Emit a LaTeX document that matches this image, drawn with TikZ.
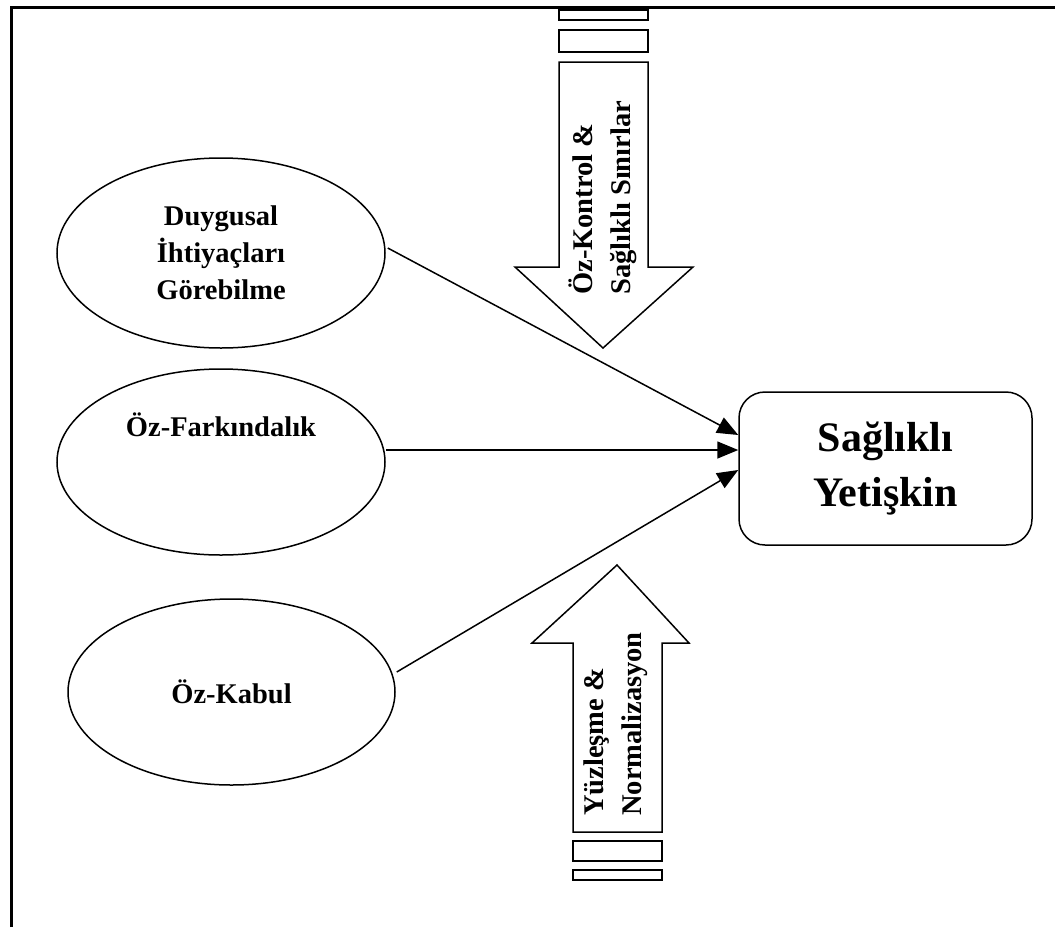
\documentclass[tikz,border=0pt]{standalone}
\usepackage{fontspec}
\setmainfont{Liberation Serif}
\usetikzlibrary{shapes.geometric,arrows.meta}
\begin{document}
\begin{tikzpicture}[x=1pt,y=-1pt,
  lbl/.style={font=\fontsize{28.5}{37}\selectfont\bfseries, align=center, inner sep=0pt},
  oval/.style={draw, ellipse, line width=1.5pt, inner sep=0pt, lbl},
  conn/.style={line width=1.5pt, -{Triangle[length=21pt,width=17pt]}},
  blk/.style={draw, line width=1.5pt, fill=white, line join=miter},
  bar/.style={draw, line width=2pt},
  vtext/.style={font=\fontsize{28.5}{38}\selectfont\bfseries, align=left, inner sep=0pt, rotate=90, anchor=west},
  goal/.style={draw, rounded corners=26pt, line width=1.5pt, minimum width=293pt, minimum height=153pt,
               font=\fontsize{42}{55}\selectfont\bfseries, align=center, inner sep=0pt}]
\useasboundingbox (0,0) rectangle (1055,927);
% frame
\draw[line width=3pt] (11,927) -- (11,7) -- (1055,7);

% top block arrow
\draw[bar] (559,10) rectangle (648,20);
\draw[bar] (559,30) rectangle (648,52);
\draw[blk] (559,62) -- (648,62) -- (648,267) -- (693,267) -- (603,348) -- (515,267) -- (559,267) -- cycle;
\node[vtext] (ta) at (603,295) {Öz-Kontrol \&\\Sağlıklı Sınırlar};

% bottom block arrow
\draw[blk] (573,832) -- (573,643) -- (532,643) -- (617,565) -- (689,643) -- (662,643) -- (662,832) -- cycle;
\draw[bar] (573,841) rectangle (662,861);
\draw[bar] (573,870) rectangle (662,880);
\node[vtext] (ba) at (616,816) {Yüzleşme \&\\Normalizasyon};

% ellipses
\node[oval, minimum width=328pt, minimum height=190pt] (e1) at (221,253) {Duygusal\\İhtiyaçları\\Görebilme};
\node[oval, minimum width=328pt, minimum height=186pt] (e2) at (221,462) {Öz-Farkındalık\\\mbox{}\\\mbox{}};
\node[oval, minimum width=327pt, minimum height=186pt] (e3) at (231.5,692) {Öz-Kabul};

% goal box
\node[goal] (box) at (885.5,468.5) {Sağlıklı\\Yetişkin};

\coordinate (t1) at (box.west |- 0,435);
\coordinate (t2) at (box.west |- 0,450);
\coordinate (t3) at (box.west |- 0,470);

\draw[conn] (e1.east) ++(2,-5) -- (t1);
\draw[conn] (e2.east |- t2) -- (t2);
\draw[conn] (e3.east) ++(1,-20) -- (t3);
\end{tikzpicture}
\end{document}
